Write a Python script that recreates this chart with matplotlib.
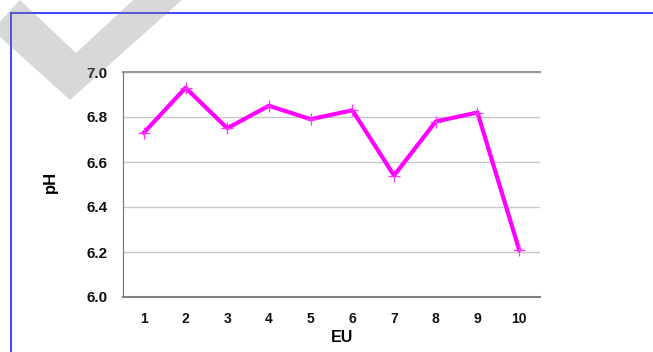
import matplotlib
matplotlib.use("Agg")
import matplotlib.pyplot as plt
from matplotlib.patches import Polygon
from matplotlib.lines import Line2D

plt.rcParams["font.family"] = ["Liberation Sans", "DejaVu Sans"]

eu = [1, 2, 3, 4, 5, 6, 7, 8, 9, 10]
ph = [6.73, 6.93, 6.75, 6.85, 6.79, 6.83, 6.54, 6.78, 6.82, 6.21]
yticks = [6.0, 6.2, 6.4, 6.6, 6.8, 7.0]

W, H = 653, 352
fig = plt.figure(figsize=(W / 100, H / 100), dpi=100)
ax = fig.add_axes([123 / W, 1 - 297 / H, (540 - 123) / W, (297 - 72) / H])

ax.plot(eu, ph, color="#ff00ff", lw=3, zorder=3)
ax.plot(eu, ph, ls="none", marker="+", ms=8, mew=0.9, color="#ff33ff", zorder=4)

ax.set_xlim(0.5, 10.5)
ax.set_ylim(6.0, 7.0)
ax.set_xticks(eu)
ax.set_yticks(yticks)
ax.set_yticklabels([f"{v:.1f}" for v in yticks], fontsize=11, fontweight="bold", color="#111111")
ax.set_xticklabels([str(v) for v in eu], fontsize=10, fontweight="bold", color="#111111")
ax.tick_params(axis="y", length=0, pad=11)
ax.tick_params(axis="x", length=0, pad=11)
ax.grid(axis="y", color="#c8c8c8", lw=1)
ax.set_axisbelow(True)
for s in ["top", "right"]:
    ax.spines[s].set_visible(False)
ax.spines["left"].set_color("#707070")
ax.spines["bottom"].set_color("#808080")
ax.spines["bottom"].set_linewidth(1.5)
ax.axhline(7.0, color="#999999", lw=1.5, clip_on=False)

ax.set_ylabel("pH", fontsize=12, fontweight="bold")
ax.yaxis.set_label_coords((50 - 123) / 417, (297 - 182) / 225)
ax.set_xlabel("EU", fontsize=11.5, fontweight="bold")
ax.xaxis.set_label_coords((342 - 123) / 417, -(337 - 297) / 225)
ax.xaxis.label.set_va("center")
ax.yaxis.label.set_va("center")

# blue frame (top and left edges visible)
fig.add_artist(Line2D([11 / W, 1.0], [1 - 13 / H, 1 - 13 / H], color="#3333ff", lw=1.3))
fig.add_artist(Line2D([11 / W, 11 / W], [1 - 13 / H, 0.0], color="#3333ff", lw=1.3))

# gray watermark check
pts = [(-7.8, 29.9), (70, 100), (193, -10), (144, -10), (76, 53), (20, 0)]
fig.add_artist(Polygon([(x / W, 1 - y / H) for x, y in pts], closed=True,
                       facecolor="#808080", alpha=0.3, edgecolor="none", zorder=10))

fig.savefig("out.png", dpi=100)
